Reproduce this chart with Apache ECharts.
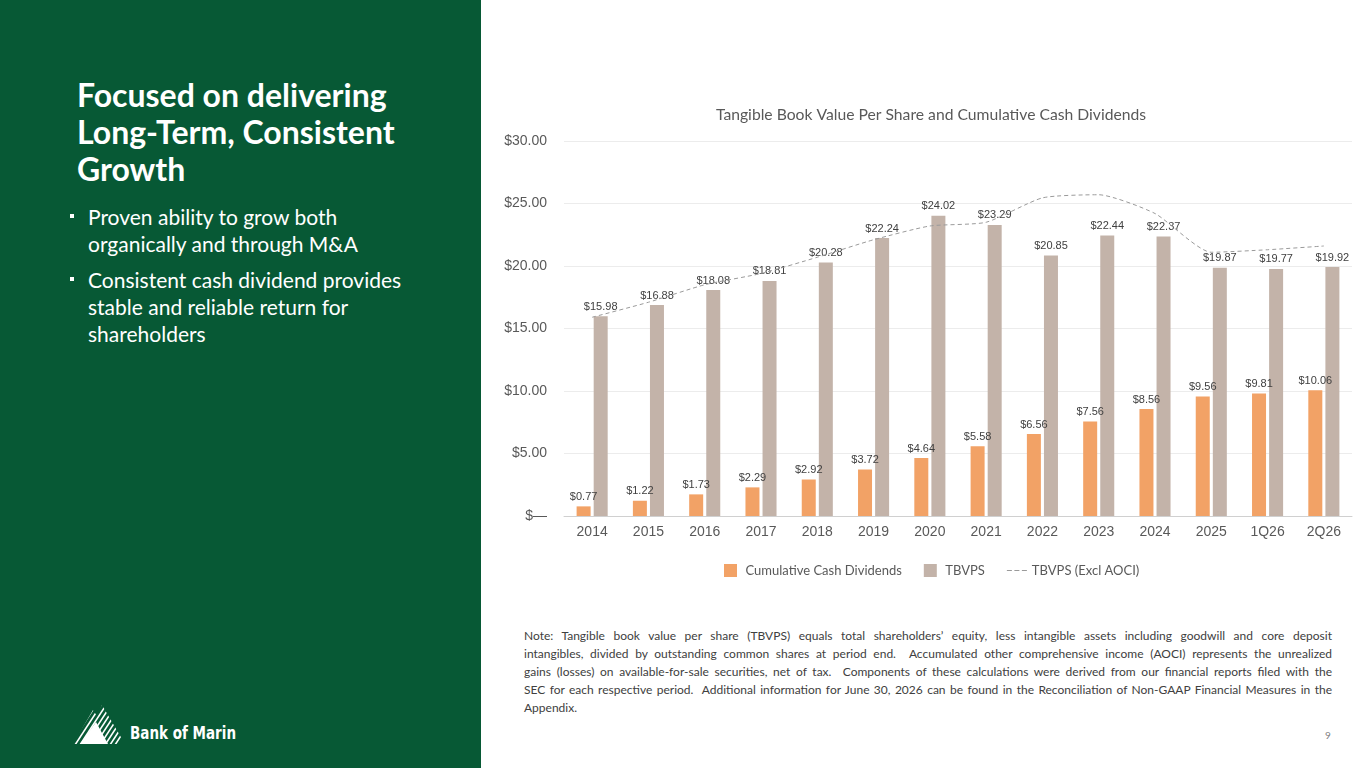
<!DOCTYPE html>
<html>
<head>
<meta charset="utf-8">
<script src="https://cdn.jsdelivr.net/npm/echarts@6/dist/echarts.min.js"></script>
<style>
  html, body { margin: 0; padding: 0; }
  body { width: 1365px; height: 768px; position: relative; overflow: hidden; background: #fff; font-family: Lato, "Open Sans", sans-serif; }
  #side { position: absolute; left: 0; top: 0; width: 481px; height: 768px; background: #075935; color: #fff; }
  #side h1 { position: absolute; left: 77px; top: 76px; margin: 0; font-size: 32px; line-height: 37px; font-weight: 700; white-space: nowrap; }
  #side ul { position: absolute; left: 88px; top: 203px; margin: 0; padding: 0; list-style: none; font-size: 21px; line-height: 27px; white-space: nowrap; }
  #side li { position: relative; margin-bottom: 9px; }
  #side li::before { content: ""; position: absolute; left: -18px; top: 11px; width: 4px; height: 4px; background: #fff; }
  #logo { position: absolute; left: 68px; top: 702px; }
  #chart { position: absolute; left: 481px; top: 0; width: 884px; height: 600px; }
  #note { position: absolute; left: 524px; top: 627px; width: 808px; font-size: 12px; line-height: 18px; color: #404040; }
  #note div { text-align: justify; text-align-last: justify; white-space: nowrap; }
  #note div.last { text-align-last: left; }
  #page { position: absolute; left: 1325px; top: 729px; font-size: 10px; color: #7f7f7f; }
</style>
</head>
<body>
<div id="side">
  <h1>Focused on delivering<br>Long-Term, Consistent<br>Growth</h1>
  <ul>
    <li>Proven ability to grow both<br>organically and through M&amp;A</li>
    <li>Consistent cash dividend provides<br>stable and reliable return for<br>shareholders</li>
  </ul>
  <svg id="logo" width="180" height="46" viewBox="0 0 180 46">
    <defs>
      <clipPath id="mtn">
        <polygon points="5,42 25,8 29,14 34,3 57,42"/>
      </clipPath>
    </defs>
    <g clip-path="url(#mtn)" stroke="#fff" stroke-width="1.6">
      <line x1="-10" y1="46" x2="20" y2="0"/>
      <line x1="-5" y1="46" x2="25" y2="0"/>
      <line x1="0" y1="46" x2="30" y2="0"/>
      <line x1="5" y1="46" x2="35" y2="0"/>
      <line x1="10" y1="46" x2="40" y2="0"/>
      <line x1="15" y1="46" x2="45" y2="0"/>
      <line x1="20" y1="46" x2="50" y2="0"/>
      <line x1="25" y1="46" x2="55" y2="0"/>
      <line x1="30" y1="46" x2="60" y2="0"/>
      <line x1="35" y1="46" x2="65" y2="0"/>
      <line x1="40" y1="46" x2="70" y2="0"/>
      <line x1="45" y1="46" x2="75" y2="0"/>
    </g>
    <polygon points="12,42 28,20 40,42" fill="#fff"/>
    <text x="62" y="37" fill="#fff" font-family="'DejaVu Sans Condensed', 'DejaVu Sans', sans-serif" font-weight="bold" font-size="18" textLength="106" lengthAdjust="spacingAndGlyphs">Bank of Marin</text>
  </svg>
</div>
<div id="chart"></div>
<div id="note">
  <div>Note: Tangible book value per share (TBVPS) equals total shareholders’ equity, less intangible assets including goodwill and core deposit</div>
  <div>intangibles, divided by outstanding common shares at period end.&nbsp; Accumulated other comprehensive income (AOCI) represents the unrealized</div>
  <div>gains (losses) on available-for-sale securities, net of tax.&nbsp; Components of these calculations were derived from our financial reports filed with the</div>
  <div>SEC for each respective period.&nbsp; Additional information for June 30, 2026 can be found in the Reconciliation of Non-GAAP Financial Measures in the</div>
  <div class="last">Appendix.</div>
</div>
<div id="page">9</div>
<script>
  const periods = ['2014', '2015', '2016', '2017', '2018', '2019', '2020', '2021', '2022', '2023', '2024', '2025', '1Q26', '2Q26'];
  const cumulativeDividends = [0.77, 1.22, 1.73, 2.29, 2.92, 3.72, 4.64, 5.58, 6.56, 7.56, 8.56, 9.56, 9.81, 10.06];
  const tbvps = [15.98, 16.88, 18.08, 18.81, 20.28, 22.24, 24.02, 23.29, 20.85, 22.44, 22.37, 19.87, 19.77, 19.92];
  const tbvpsExclAoci = [15.9, 17.1, 18.5, 19.4, 20.7, 22.1, 23.2, 23.5, 25.45, 25.7, 24.2, 21.1, 21.3, 21.6];

  const colors = {
    dividends: '#F2A266',
    tbvps: '#C3B3A9',
    line: '#9a9a9a',
    axisText: '#595959',
    label: '#404040',
    grid: '#ececec'
  };

  const valueLabel = {
    show: true,
    position: 'top',
    distance: 4,
    fontFamily: 'Liberation Sans, Arial, sans-serif',
    fontSize: 11,
    color: colors.label,
    formatter: function (p) { return '$' + p.value.toFixed(2); }
  };

  // icons keep their aspect inside the 20x13 legend slot
  const squareIcon = 'path://M0,0h10v10h-10z';
  const dashIcon = 'path://M0,6h5v1.2h-5z M7.5,6h5v1.2h-5z M15,6h5v1.2h-5z';

  const chart = echarts.init(document.getElementById('chart'));
  chart.setOption({
    animation: false,
    title: {
      text: 'Tangible Book Value Per Share and Cumulative Cash Dividends',
      left: 445,
      textAlign: 'center',
      top: 102,
      textStyle: { fontFamily: 'Lato, sans-serif', fontSize: 15.7, fontWeight: 'normal', color: colors.axisText }
    },
    legend: {
      top: 559,
      left: 238,
      itemWidth: 20,
      itemHeight: 13,
      itemGap: 22,
      textStyle: { fontFamily: 'Lato, sans-serif', fontSize: 13, color: colors.axisText },
      data: [
        { name: 'Cumulative Cash Dividends', icon: squareIcon },
        { name: 'TBVPS', icon: squareIcon },
        { name: 'TBVPS (Excl AOCI)', icon: dashIcon }
      ]
    },
    grid: { left: 83, right: 13, top: 141, bottom: 84 },
    xAxis: {
      type: 'category',
      data: periods,
      axisTick: { show: false },
      axisLine: { lineStyle: { color: '#d0d0d0', width: 1 } },
      axisLabel: { margin: 9, fontFamily: 'Liberation Sans, Arial, sans-serif', fontSize: 14, color: colors.axisText }
    },
    yAxis: {
      type: 'value',
      min: 0,
      max: 30,
      interval: 5,
      axisLine: { show: false },
      axisTick: { show: false },
      splitLine: { lineStyle: { color: colors.grid, width: 1 } },
      axisLabel: {
        margin: 17,
        fontFamily: 'Liberation Sans, Arial, sans-serif',
        fontSize: 14,
        color: colors.axisText,
        formatter: function (v) { return v === 0 ? '$\u2014' : '$' + v.toFixed(2); }
      }
    },
    series: [
      {
        name: 'Cumulative Cash Dividends',
        type: 'bar',
        data: cumulativeDividends,
        barWidth: 14,
        barGap: '22%',
        itemStyle: { color: colors.dividends },
        label: valueLabel
      },
      {
        name: 'TBVPS',
        type: 'bar',
        data: tbvps,
        barWidth: 14,
        barGap: '22%',
        itemStyle: { color: colors.tbvps },
        label: valueLabel
      },
      {
        name: 'TBVPS (Excl AOCI)',
        type: 'line',
        data: tbvpsExclAoci,
        smooth: 0.2,
        symbol: 'none',
        z: 5,
        lineStyle: { color: colors.line, width: 1, type: [4, 3] },
        itemStyle: { color: colors.line }
      }
    ]
  });
</script>
</body>
</html>
